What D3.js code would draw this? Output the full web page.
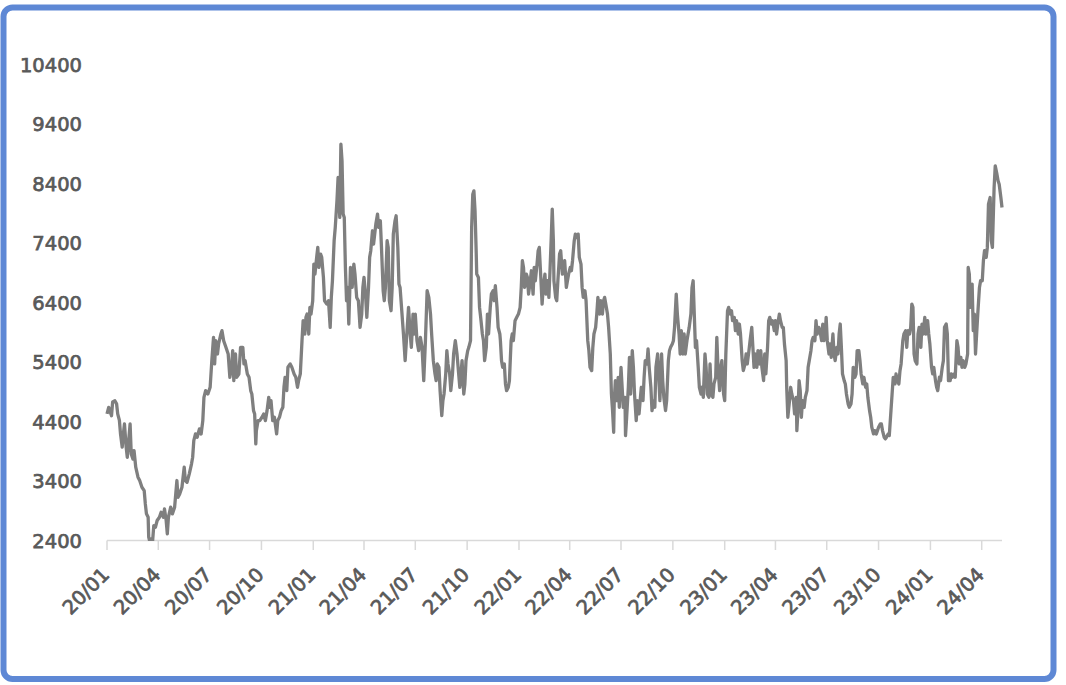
<!DOCTYPE html>
<html><head><meta charset="utf-8">
<script src="https://cdn.jsdelivr.net/npm/d3@7"></script>
<style>html,body{margin:0;padding:0;background:#fff;} svg{display:block;}</style>
</head><body>
<svg id="c" width="1066" height="685"></svg>
<script>
// Day-of-year and value, one pair of arrays per year
const doy2020=[1,4,9,11,15,18,20,23,25,28,30,32,35,37,39,42,44,47,49,52,56,59,63,67,69,71,74,75,77,80,82,84,87,90,94,97,101,103,106,108,110,114,117,121,125,127,130,134,138,140,143,147,151,153,155,158,161,165,168,171,173,176,180,184,187,190,192,194,197,199,203,205,208,212,216,219,222,224,226,229,231,235,238,242,244,246,250,253,256,258,261,263,265,266,269,272,276,279,282,285,288,290,292,295,298,302,304,307,310,313,315,317,320,322,326,329,333,336,339,341,344,347,349,352,354,356,359,361,363,366];
const val2020=[4530,4640,4500,4730,4750,4700,4530,4420,4190,3970,4190,4360,3970,3800,4025,4360,3857,3770,3913,3633,3465,3409,3296,3240,3016,2848,2792,2456,2380,2430,2400,2650,2624,2736,2792,2876,2792,2932,2736,2512,2792,2960,2848,2960,3409,3128,3184,3296,3633,3409,3380,3521,3690,3801,4081,4193,4137,4277,4193,4417,4809,4921,4865,4978,5426,5818,5370,5762,5538,5706,5874,5930,5762,5650,5538,5146,5314,5594,5090,5538,5146,5202,5650,5650,5370,5426,5202,5146,4921,4865,4585,4529,4025,4249,4417,4417,4473,4529,4417,4585,4809,4641,4753,4417,4473,4193,4417,4473,4585,4641,4978,5146,4921,5314,5370,5314,5202,5146,4978,5090,5202,5762,6098,5874,6154,6210,5874,6322,6210,6434];
const doy2021=[2,4,7,9,11,14,16,19,21,25,28,31,33,35,38,40,43,45,48,50,52,54,56,58,60,62,64,67,70,73,75,78,81,84,87,89,91,94,96,99,101,103,106,108,112,115,117,120,122,125,127,129,132,134,136,139,141,143,146,148,151,153,155,158,161,164,167,170,173,175,178,180,182,185,188,191,194,197,200,203,206,209,211,214,217,219,221,224,226,229,231,233,236,238,240,243,245,248,250,253,256,258,261,263,265,268,270,272,275,277,280,282,284,286,288,290,291,294,296,298,301,303,305,308,310,312,315,317,320,322,324,327,329,332,333,335,337,340,342,344,347,349,352,354,356,359,362,365];
const val2021=[7050,6882,7163,7331,6994,7219,7163,6826,6434,6378,6434,5986,6490,6770,7443,7667,8115,8507,7835,9068,8787,7891,7835,6994,6434,6658,6042,6994,6658,7050,6882,6490,6434,5986,6210,6658,6826,6490,6154,6658,7163,7275,7611,7387,7723,7891,7667,7779,7331,6602,6434,6658,7443,7331,6434,6266,6658,7555,7779,7863,7331,6714,6658,6266,5874,5426,5874,6322,5874,5650,6210,5874,6210,5762,5594,5818,5650,5090,5762,6602,6490,6210,5874,5426,5202,5090,5370,5314,4921,4501,4753,4865,5202,5594,5370,5202,4921,5202,5538,5762,5538,5314,4978,5202,5426,4865,5034,5426,5594,5650,5762,7667,8227,8283,7947,7275,6882,6826,6322,6154,5874,5762,5426,5650,6210,5874,6322,6546,6602,6434,6686,6322,5986,5874,5762,5426,5314,5370,5034,4921,4978,5090,5762,5874,5762,6098,6154,6210];
const doy2022=[3,5,7,9,11,14,16,18,21,23,26,28,30,33,35,37,40,42,44,47,49,52,54,56,58,60,62,63,66,68,70,73,75,78,80,82,85,87,89,92,94,96,99,101,104,106,108,111,113,115,118,120,123,125,127,130,132,134,137,139,141,144,146,149,151,153,156,158,160,163,165,167,169,170,172,175,177,179,182,184,186,189,190,192,195,197,199,202,204,206,209,211,214,216,218,221,223,225,228,230,232,235,237,240,242,244,247,249,251,254,256,258,261,263,266,268,270,273,275,277,280,282,285,287,289,292,294,296,299,301,303,306,308,310,312,314,316,319,321,324,326,328,331,333,335,338,340,342,345,347,350,352,354,357,359,361,364];
const val2022=[6322,6658,7107,6994,6658,6882,6826,6546,6770,6938,6546,6994,6770,7050,7275,7331,6770,6378,6658,6882,6546,6770,6490,6938,7443,7975,7443,6770,6490,6434,6770,7219,7275,6882,6994,7107,6658,6770,6882,6994,6938,7107,7443,7555,7499,7555,7163,7050,6658,6490,6602,6434,5762,5594,5314,5258,5650,5874,5986,6210,6490,6210,6434,6210,6434,6490,6322,6210,5986,5538,4865,4585,4221,4753,5090,4753,5146,4641,5314,4978,4641,4809,4165,4473,4978,5482,4865,5594,5314,4865,4417,4753,4529,4753,4978,4753,5146,5426,5370,5622,5314,4978,4585,4753,4641,5314,5538,5146,4753,5538,5090,4809,4585,4753,5426,5594,5650,5706,5762,5986,6546,6210,5874,5538,5930,5538,5874,5538,5762,5874,5986,6210,6658,6770,6210,5650,5762,5314,4978,4865,4978,4809,5538,5314,4865,4809,5370,4865,4809,5034,5146,5818,5314,4921,5314,5426,4865];
const doy2023=[1,3,6,8,11,13,15,18,20,22,25,27,29,32,34,37,39,41,44,46,49,51,53,55,58,60,63,65,67,70,72,74,77,79,81,84,86,89,91,93,96,98,100,103,105,107,110,111,113,116,118,120,123,125,128,129,131,133,135,137,139,142,144,147,149,151,154,156,158,161,163,165,168,170,173,175,177,180,181,183,186,188,190,193,195,197,200,202,204,206,208,210,213,215,217,220,222,225,227,229,232,234,236,239,241,243,246,248,251,253,255,258,260,262,265,267,270,272,274,277,279,281,284,286,288,291,293,296,298,300,303,305,307,310,312,314,317,319,322,324,326,329,331,333,335,337,339,342,344,346,349,351,353,356,358,361,363,365];
const val2023=[4753,5538,6266,6322,6210,6266,6098,6154,5930,6098,5874,6042,5874,5426,5258,5370,5538,5370,5594,5762,5986,5650,5314,5538,5314,5594,5370,5594,5314,5090,5538,5202,5650,6098,6154,6042,6098,5930,6098,5874,6098,6210,6098,5986,5986,5706,5426,4978,4473,4753,4978,4865,4753,4529,4809,4249,4585,5090,4921,4473,4753,4641,4809,4921,5314,5426,5594,5762,5818,5762,6098,5874,5986,5930,5762,6042,5762,5986,6154,5762,5538,5706,5482,5874,5538,5426,5650,5538,5874,6042,5650,5202,5090,5034,4865,4697,4641,4697,4865,5314,5146,5202,5594,5594,5426,5202,5034,5146,4978,5034,4809,4585,4473,4305,4193,4249,4193,4249,4305,4361,4361,4249,4137,4109,4137,4193,4165,4585,4865,5146,5034,5202,5090,5034,5258,5370,5762,5874,5930,5650,5930,5874,5986,6378,6322,5538,5426,5370,5874,5986,5650,6042,5874,6154,5874,6098,5874,5706];
const doy2024=[3,5,7,10,12,14,17,19,22,24,26,29,31,33,36,38,40,43,45,48,50,52,55,57,59,62,64,67,68,70,72,75,77,79,81,83,85,88,90,93,95,97,100,102,104,107,109,111,114,116,119,121,123,126,128];
const val2024=[5314,5202,5314,5090,4978,4921,5146,5090,5314,5426,5986,6042,5874,5090,5090,5202,5146,5202,5146,5762,5650,5370,5482,5314,5426,5314,5370,5538,6994,6882,6322,6714,5930,6210,5538,5874,6210,6658,6770,6770,7107,7275,7163,7331,8059,8171,7443,7331,8339,8703,8563,8451,8395,8171,8003];

const yTicks=[2400,3400,4400,5400,6400,7400,8400,9400,10400];
const xTickLabels=["20/01","20/04","20/07","20/10","21/01","21/04","21/07","21/10","22/01","22/04","22/07","22/10","23/01","23/04","23/07","23/10","24/01","24/04"];

const years=[[2020,doy2020,val2020],[2021,doy2021,val2021],[2022,doy2022,val2022],[2023,doy2023,val2023],[2024,doy2024,val2024]];
const data=[];
years.forEach(([yr,ds,vs])=>ds.forEach((d,i)=>data.push({date:new Date(yr,0,d),value:vs[i]})));
const xTickDates=xTickLabels.map(s=>{const [yy,mm]=s.split("/").map(Number);return new Date(2000+yy,mm-1,1);});

const svg=d3.select("#c");
svg.append("rect").attr("x",3.5).attr("y",7.5).attr("width",1050).attr("height",671.5).attr("rx",9)
  .attr("fill","#fff").attr("stroke","#5E88D5").attr("stroke-width",6);

const x=d3.scaleTime().domain([new Date(2020,0,1),data[data.length-1].date]).range([107,1002]);
const y=d3.scaleLinear().domain([2400,10400]).range([540.5,65]);

const font="'DejaVu Sans', sans-serif";
// y labels
svg.append("g").selectAll("text").data(yTicks).join("text")
  .attr("x",82).attr("y",d=>y(d)).attr("dy","0.36em").attr("text-anchor","end")
  .attr("font-family",font).attr("font-size",19.5).attr("fill","#595959")
  .attr("stroke","#595959").attr("stroke-width",0.75)
  .text(d=>d);

// x axis line and ticks
const ax=svg.append("g");
ax.append("line").attr("x1",x.range()[0]).attr("x2",x.range()[1]).attr("y1",540.5).attr("y2",540.5)
  .attr("stroke","#d9d9d9").attr("stroke-width",1.5);
ax.selectAll("line.t").data(xTickDates).join("line").attr("class","t")
  .attr("x1",d=>x(d)).attr("x2",d=>x(d)).attr("y1",540.5).attr("y2",550)
  .attr("stroke","#d9d9d9").attr("stroke-width",1.5);
ax.selectAll("text").data(xTickDates).join("text")
  .attr("transform",d=>`translate(${x(d)+3.5},576) rotate(-45)`)
  .attr("text-anchor","end").attr("font-family",font).attr("font-size",19.5)
  .attr("fill","#595959").attr("stroke","#595959").attr("stroke-width",0.75)
  .text((d,i)=>xTickLabels[i]);

// clip
svg.append("clipPath").attr("id","clip").append("rect").attr("x",100).attr("y",40).attr("width",920).attr("height",501);
const line=d3.line().x(d=>x(d.date)).y(d=>y(d.value));
svg.append("path").datum(data).attr("clip-path","url(#clip)").attr("d",line)
  .attr("fill","none").attr("stroke","#7f7f7f").attr("stroke-width",3.3).attr("stroke-linejoin","round");
</script>
</body></html>
